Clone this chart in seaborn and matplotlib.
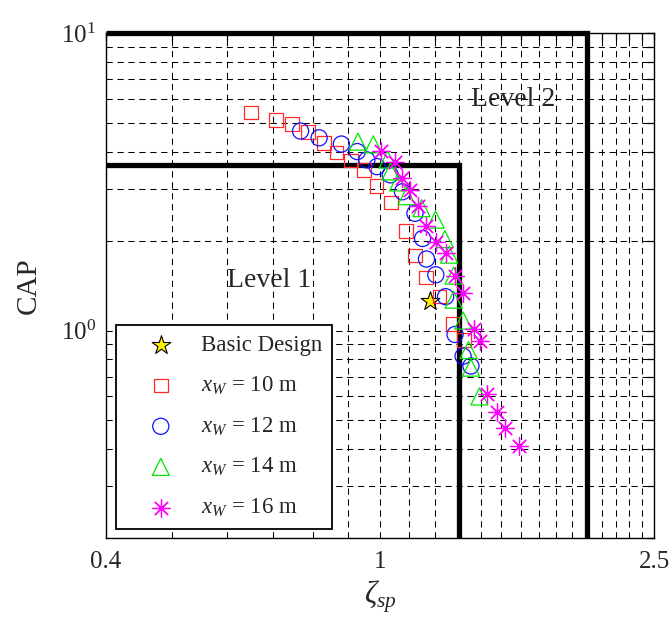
import numpy as np
import pandas as pd
import matplotlib
matplotlib.use("Agg")
import matplotlib.pyplot as plt
import seaborn as sns
from matplotlib.ticker import FixedLocator, FixedFormatter, NullFormatter, LogLocator

# ---------------- data ----------------
zeta_10 = [0.650, 0.706, 0.746, 0.786, 0.829, 0.865, 0.908, 0.948, 0.989, 1.038,
           1.090, 1.124, 1.166, 1.219, 1.275, 1.325]
cap_10 = [5.41, 5.10, 4.95, 4.65, 4.27, 3.97, 3.73, 3.47, 3.06, 2.70,
          2.16, 1.79, 1.51, 1.30, 1.05, 0.93]

zeta_12 = [0.767, 0.816, 0.879, 0.927, 0.957, 0.990, 1.035, 1.078, 1.124, 1.153,
           1.168, 1.205, 1.245, 1.285, 1.320, 1.355]
cap_12 = [4.69, 4.45, 4.24, 4.00, 3.75, 3.56, 3.34, 2.93, 2.48, 2.04,
          1.74, 1.54, 1.30, 0.97, 0.82, 0.76]

zeta_14 = [0.929, 0.978, 1.026, 1.036, 1.062, 1.093, 1.149, 1.204, 1.242, 1.260,
           1.279, 1.279, 1.320, 1.344, 1.355, 1.394]
cap_14 = [4.32, 4.23, 3.76, 3.43, 3.15, 2.83, 2.58, 2.36, 2.03, 1.80,
          1.53, 1.27, 1.08, 0.86, 0.75, 0.60]

zeta_16 = [1.004, 1.050, 1.076, 1.104, 1.137, 1.166, 1.205, 1.245, 1.286, 1.318,
           1.369, 1.396, 1.428, 1.476, 1.516, 1.589]
cap_16 = [4.02, 3.68, 3.27, 2.98, 2.63, 2.25, 1.98, 1.83, 1.52, 1.34,
          1.01, 0.92, 0.61, 0.53, 0.47, 0.41]

basic_zeta = [1.18]
basic_cap = [1.26]

level1_zeta = [0.4, 1.3, 1.3]
level1_cap = [3.6, 3.6, 0.2]
level2_zeta = [0.4, 2.0, 2.0]
level2_cap = [10.0, 10.0, 0.2]

series_labels = [r"$x_W$ = 10 m", r"$x_W$ = 12 m", r"$x_W$ = 14 m", r"$x_W$ = 16 m"]
x_tick_values = [0.4, 1, 2.5]
x_tick_labels = ["0.4", "1", "2.5"]
x_minor_values = [round(0.5 + 0.1 * i, 1) for i in range(20)]

# ---------------- style ----------------
sns.set_style("white")
plt.rcParams["font.family"] = ["Liberation Serif", "DejaVu Serif"]
plt.rcParams["mathtext.fontset"] = "custom"
plt.rcParams["mathtext.rm"] = "Liberation Serif"
plt.rcParams["mathtext.it"] = "Liberation Serif:italic"
plt.rcParams["mathtext.bf"] = "Liberation Serif:bold"

fig = plt.figure(figsize=(6.71, 6.19), dpi=100)
ax = fig.add_axes([0.1575, 0.1304, 0.8176, 0.8158])
ax.set_xscale("log")
ax.set_yscale("log")

def frame(z, c):
    return pd.DataFrame({"zeta": z, "cap": c})

# boundaries
for zz, cc in [(level1_zeta, level1_cap), (level2_zeta, level2_cap)]:
    sns.lineplot(data=frame(zz, cc), x="zeta", y="cap", sort=False, estimator=None,
                 color="black", lw=3.8, ax=ax, zorder=2, clip_on=False,
                 solid_capstyle="butt", solid_joinstyle="miter")

# basic design
sns.scatterplot(data=frame(basic_zeta, basic_cap), x="zeta", y="cap", marker="*",
                s=200, color="#ffee00", edgecolor="black", linewidth=0.8,
                ax=ax, zorder=3, label="Basic Design")

specs = [
    (zeta_10, cap_10, "s", "#ff2a2a", 95),
    (zeta_12, cap_12, "o", "#1010ff", 135),
    (zeta_14, cap_14, "^", "#00e600", 150),
]
for (zz, cc, mk, col, sz), lab in zip(specs, series_labels[:3]):
    sns.scatterplot(data=frame(zz, cc), x="zeta", y="cap", marker=mk, s=sz,
                    facecolor="none", edgecolor=col, linewidth=0.9,
                    ax=ax, zorder=3, label=lab)

sns.scatterplot(data=frame(zeta_16, cap_16), x="zeta", y="cap", marker=(8, 2, 0),
                s=165, color="#ff00ff", linewidth=0.9, ax=ax, zorder=4,
                label=series_labels[3])

# axes limits & ticks
ax.set_xlim(0.4, 2.5)
ax.set_ylim(0.2, 10)
ax.xaxis.set_major_locator(FixedLocator(x_tick_values))
ax.xaxis.set_major_formatter(FixedFormatter(x_tick_labels))
ax.xaxis.set_minor_locator(FixedLocator(x_minor_values))
ax.xaxis.set_minor_formatter(NullFormatter())
ax.yaxis.set_major_locator(LogLocator(base=10, numticks=10))
ax.yaxis.set_minor_locator(LogLocator(base=10, subs=np.arange(2, 10), numticks=20))
ax.yaxis.set_minor_formatter(NullFormatter())

ax.tick_params(which="both", direction="in", top=True, right=True,
               length=5, width=0.9, color="black")
ax.tick_params(axis="x", which="major", labelsize=18, pad=9)
ax.tick_params(axis="y", which="major", labelsize=18, pad=7)

ax.grid(True, which="both", color="black", lw=0.75, ls=(0, (6, 4.5)))
ax.set_axisbelow(True)
for sp in ax.spines.values():
    sp.set_color("black")
    sp.set_linewidth(1.0)
    sp.set_visible(True)

ax.set_xlabel(r"$\zeta_{sp}$", fontsize=22, labelpad=4)
ax.set_ylabel("CAP", fontsize=21, labelpad=14)

ax.text(0.69, 1.47, "Level 1", fontsize=20, ha="center", va="center")
ax.text(1.56, 6.0, "Level 2", fontsize=20, ha="center", va="center")

leg = ax.legend(loc="lower left", bbox_to_anchor=(0.019, 0.018), borderaxespad=0,
                fontsize=16.5, frameon=True, fancybox=False, framealpha=1,
                edgecolor="black", handlelength=3.0, handletextpad=0.25,
                borderpad=0.45, labelspacing=0.8, scatterpoints=1)
leg.get_frame().set_linewidth(1.3)

fig.savefig("out.png", dpi=100)
